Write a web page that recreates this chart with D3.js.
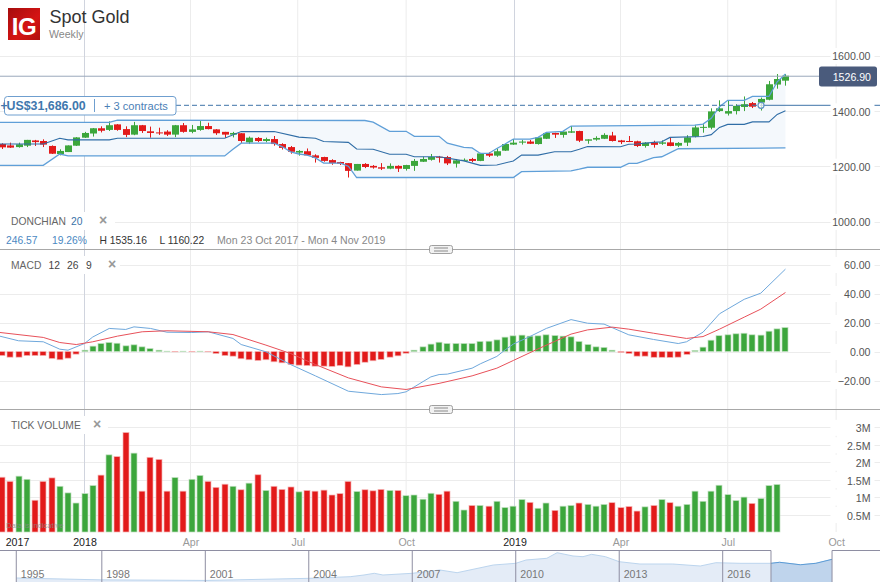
<!DOCTYPE html>
<html>
<head>
<meta charset="utf-8">
<script src="https://cdnjs.cloudflare.com/ajax/libs/d3/7.8.5/d3.min.js"></script>
<style>
  html, body { margin: 0; padding: 0; background: #fff; }
  svg { display: block; font-family: "Liberation Sans", Arial, sans-serif; }
</style>
</head>
<body>
<svg id="chart" width="880" height="582"></svg>
<script>
// Weekly candles, one entry per week from 23 Oct 2017
const opens = [1280,1275,1269,1274,1293,1291,1273,1244,1251,1274,1303,1318,1337,1331,1351,1334,1314,1348,1326,1322,1325,1314,1348,1324,1331,1345,1333,1324,1314,1319,1286,1302,1291,1298,1280,1269,1249,1254,1239,1233,1222,1215,1211,1184,1208,1201,1196,1191,1201,1190,1201,1216,1223,1234,1233,1209,1220,1226,1219,1246,1238,1256,1278,1285,1289,1280,1299,1320,1313,1321,1327,1292,1296,1299,1311,1293,1291,1290,1273,1286,1281,1286,1274,1285,1307,1339,1339,1399,1390,1399,1414,1428,1430,1440,1495,1509];
const highs = [1283,1285,1285,1295,1295,1297,1275,1261,1275,1305,1324,1338,1344,1362,1352,1344,1360,1349,1343,1339,1330,1349,1356,1349,1363,1357,1334,1324,1324,1319,1307,1305,1303,1309,1283,1273,1258,1264,1243,1234,1225,1216,1211,1208,1211,1204,1211,1210,1203,1205,1226,1234,1244,1237,1237,1226,1228,1230,1248,1251,1264,1280,1298,1295,1295,1304,1322,1321,1326,1345,1328,1297,1308,1319,1324,1295,1309,1292,1287,1292,1293,1302,1287,1312,1348,1352,1409,1438,1437,1424,1452,1432,1448,1508,1533,1533];
const lows = [1262,1266,1267,1269,1273,1269,1244,1239,1251,1273,1302,1307,1322,1327,1328,1305,1312,1320,1303,1313,1309,1305,1321,1319,1328,1333,1313,1302,1304,1284,1280,1287,1286,1274,1260,1245,1238,1238,1213,1216,1205,1204,1159,1184,1193,1191,1186,1189,1179,1184,1183,1215,1220,1213,1204,1195,1219,1214,1218,1233,1234,1255,1277,1278,1280,1278,1298,1302,1303,1320,1287,1281,1292,1298,1289,1280,1287,1269,1267,1267,1277,1272,1269,1273,1304,1321,1333,1396,1383,1387,1399,1410,1401,1438,1480,1491];
const closes = [1268,1267,1279,1295,1287,1278,1245,1255,1275,1304,1320,1337,1328,1348,1331,1313,1348,1327,1320,1320,1314,1348,1324,1333,1345,1334,1319,1314,1320,1291,1303,1291,1298,1280,1266,1252,1255,1239,1230,1219,1211,1209,1183,1208,1197,1195,1191,1201,1191,1204,1219,1226,1233,1231,1210,1221,1223,1219,1246,1238,1254,1280,1285,1289,1281,1304,1320,1314,1325,1326,1292,1297,1302,1313,1291,1287,1289,1273,1285,1277,1286,1273,1284,1304,1340,1342,1398,1409,1399,1418,1424,1415,1443,1496,1515,1526.9];

// Donchian channel, read at the weeks where the line bends
const upperAt = [-1,13,14,44,45,47,49,50,53,54,56,57,58,59,60,61,62,64,65,66,68,69,84,85,86,87,88,90,91,93,94,95];
const upperVal = [1358,1358,1366,1365,1359,1326,1326,1308,1308,1283,1268,1266,1246,1246,1264,1280,1298,1298,1304,1322,1326,1345,1348,1352,1373,1415,1438,1438,1452,1452,1505,1533];
const lowerAt = [-1,5,7,8,27,28,29,33,34,35,36,37,38,39,41,42,43,62,63,69,70,71,75,76,77,79,80,82,95];
const lowerVal = [1203,1203,1244,1237,1237,1261,1283,1283,1270,1252,1244,1240,1230,1211,1211,1200,1159,1159,1180,1183,1189,1196,1196,1210,1210,1231,1234,1263,1266];
const midAt = [-1,5,7,8,13,14,27,29,33,36,38,39,42,43,45,47,49,50,53,56,58,60,62,63,65,67,69,70,71,75,76,77,79,80,81,85,86,87,88,90,91,93,94,95];
const midVal = [1280,1280,1301,1295,1295,1301,1301,1325,1325,1305,1301,1289,1286,1262,1261,1243,1243,1234,1234,1219,1203,1204,1219,1240,1240,1252,1252,1261,1271,1270,1279,1280,1286,1288,1304,1307,1314,1340,1351,1351,1360,1360,1387,1400];

// MACD
const histogram = [-2.8,-3.9,-3.9,-2.8,-2.8,-2.8,-4.8,-5.7,-4.6,-1.8,0.9,3.7,5.5,6.2,5.7,3.9,4.6,3.2,2.0,0.9,0.2,-0.2,0.2,-0.2,0.2,-0.2,-1.4,-2.8,-3.2,-5,-5.7,-6.2,-5.7,-7.1,-7.8,-9,-9.4,-9.7,-10.1,-10.1,-10.3,-9.7,-10.6,-9,-7.4,-6.4,-5.5,-3.9,-3,-1.2,0.9,3.2,5.1,6.4,5.5,5.5,5.5,5.5,6.9,7.1,8,9.9,10.8,11.3,10.6,10.8,11.5,11,10.6,10.1,6.9,4.8,3.2,2.8,0.9,-0.6,-1.4,-3.2,-3.2,-4,-4,-4.1,-3.9,-2,0.7,3,7.8,10.9,11.5,12.2,12.6,11.5,11.3,14,15.6,16.5];
const macdAt = [-1,2,5,7,8,10,11,13,15,16,18,20,23,25,28,29,32,35,38,42,46,48,49,52,53,54,57,58,60,61,62,64,66,69,71,73,76,79,82,83,85,87,90,92,95];
const macdVal = [11.6,7.4,6.7,1.6,0.9,5.5,10,15.9,15.2,17,15.9,13.3,13.1,13.6,9,4.8,-0.2,-9,-16.8,-27.4,-29.7,-29,-27.8,-17.5,-15.9,-15.6,-11.5,-8.5,-3.4,1.1,5.1,10.3,15.9,22,19.5,18.9,11.5,8.3,5.5,6.7,13.3,26,36,40.2,56.8];
const signalAt = [-1,5,7,9,11,14,17,20,25,28,32,35,38,42,46,49,53,57,60,62,65,67,69,71,74,76,79,83,85,87,90,92,95];
const signalVal = [13.6,9.7,6.2,4.8,6.7,10.6,13.6,14.3,13.6,11.7,4.4,-1.4,-9,-18.2,-24.4,-26.2,-22,-16.8,-11.5,-6.2,1.8,6.9,12,14.9,16.8,15.4,12.6,9,10.3,15.4,23.7,29.2,40.7];

// Tick volume in millions
const volume = [1.57,1.45,1.60,1.51,0.91,1.45,1.55,1.31,1.12,0.83,1.10,1.33,1.63,2.21,2.16,2.85,2.26,1.17,2.14,2.08,1.17,1.56,1.17,1.51,1.62,1.45,1.28,1.37,1.31,1.21,1.40,1.64,1.19,1.31,1.22,1.29,1.15,1.19,1.17,1.20,1.06,1.10,1.45,1.16,1.21,1.18,1.22,1.19,1.19,1.04,1.06,0.94,1.11,1.08,1.17,0.88,0.63,0.76,0.76,0.74,0.88,0.70,0.74,0.93,0.85,0.68,0.83,0.62,0.74,0.76,0.83,0.79,0.74,0.79,0.84,0.70,0.73,0.60,0.72,0.76,0.93,0.84,0.74,0.79,1.17,0.88,1.17,1.34,1.07,0.90,1.00,0.82,0.96,1.33,1.36];

// Navigator overview
const navYears = [1995.52,1997.95,2001,2004,2005.2,2005.6,2005.9,2006.15,2007,2007.8,2008.3,2009.35,2010,2010.3,2010.9,2011.2,2011.66,2011.95,2012.2,2012.6,2013,2013.6,2014.55,2015.35,2015.8,2016.5,2017.4,2017.65,2018.25,2018.7,2019.17];
const navPrices = [410,300,265,390,486,586,686,586,686,880,722,1175,1275,1470,1570,1900,1706,1665,1805,1665,1370,1234,1234,1116,1310,1275,1275,1335,1190,1275,1510];
const navTicks = [1995.52,1998,2001,2004,2007,2010,2013,2016];
const navWindow = [2017.4,2019.17];

const priceTicks = [1000,1200,1400,1600];
const macdTicks = [-20,0,20,40,60];
const volumeTicks = [0.5,1,1.5,2,2.5,3];
const lastPrice = 1526.9;
const entryPrice = 1420;

const monthTicks = [
  [Date.UTC(2018,0,1), "2018", true], [Date.UTC(2018,3,1), "Apr", false],
  [Date.UTC(2018,6,1), "Jul", false], [Date.UTC(2018,9,1), "Oct", false],
  [Date.UTC(2019,0,1), "2019", true], [Date.UTC(2019,3,1), "Apr", false],
  [Date.UTC(2019,6,1), "Jul", false], [Date.UTC(2019,9,1), "Oct", false]
];

const width = 880, height = 582;
const green = "#3ca63c", red = "#e21a1a";
const smallText = 10.6;
const svg = d3.select("#chart");

const firstWeek = new Date(Date.UTC(2017,9,23));
const weekAt = (i) => d3.utcWeek.offset(firstWeek, i);

const x = d3.scaleUtc()
  .domain([new Date(Date.UTC(2018,0,1)), new Date(Date.UTC(2019,0,1))])
  .range([84.5, 514.5]);
const yPrice = d3.scaleLinear().domain([1000,1600]).range([221.5,55.5]);
const yMacd = d3.scaleLinear().domain([-20,60]).range([380.5,264.5]);
const yVol = d3.scaleLinear().domain([0,3]).range([532,427.3]);
const xNav = d3.scaleLinear().domain([2001,2016]).range([205.3,722.7]);
const yNav = d3.scaleLinear().domain([380,1900]).range([578.5,552.7]);

// Grid
const grid = svg.append("g");
const hLines = [...priceTicks.map(yPrice), ...macdTicks.map(yMacd), ...volumeTicks.map(yVol)];
grid.selectAll("line.h").data(hLines).join("line")
  .attr("class", "h")
  .attr("x1", 0).attr("x2", width)
  .attr("y1", (d) => Math.round(d) + 0.5).attr("y2", (d) => Math.round(d) + 0.5)
  .attr("stroke", "#ececec");
grid.selectAll("line.v").data(monthTicks).join("line")
  .attr("class", "v")
  .attr("x1", (d) => x(d[0])).attr("x2", (d) => x(d[0]))
  .attr("y1", 0).attr("y2", 532)
  .attr("stroke", (d) => d[2] ? "#d0d4de" : "#ececec");

// Donchian channel
const pts = (at, val) => at.map((w, i) => [x(weekAt(w)), yPrice(val[i])]);
const upperPts = pts(upperAt, upperVal);
const lowerPts = pts(lowerAt, lowerVal);
const midPts = pts(midAt, midVal);
const line = d3.line();

svg.append("path")
  .attr("d", line([...upperPts, ...lowerPts.slice().reverse()]) + "Z")
  .attr("fill", "#f4f8fc");

// Candles
const candle = svg.append("g").selectAll("g").data(closes).join("g");
candle.append("line")
  .attr("x1", (d, i) => Math.round(x(weekAt(i))) + 0.5)
  .attr("x2", (d, i) => Math.round(x(weekAt(i))) + 0.5)
  .attr("y1", (d, i) => yPrice(highs[i]))
  .attr("y2", (d, i) => yPrice(lows[i]))
  .attr("stroke", (d, i) => d >= opens[i] ? green : red);
candle.append("rect")
  .attr("x", (d, i) => Math.round(x(weekAt(i))) - 3)
  .attr("width", 7)
  .attr("y", (d, i) => yPrice(Math.max(d, opens[i])))
  .attr("height", (d, i) => Math.max(1, Math.abs(yPrice(d) - yPrice(opens[i]))))
  .attr("fill", (d, i) => d >= opens[i] ? green : red);

const drawLine = (points, color, w) => svg.append("path")
  .attr("d", line(points)).attr("fill", "none")
  .attr("stroke", color).attr("stroke-width", w);
drawLine(upperPts, "#5f9fd8", 1.3);
drawLine(lowerPts, "#5f9fd8", 1.3);
drawLine(midPts, "#2f6da6", 1.1);

// Last price and open position lines
svg.append("line").attr("x1", 0).attr("x2", 819)
  .attr("y1", yPrice(lastPrice) + 0.5).attr("y2", yPrice(lastPrice) + 0.5)
  .attr("stroke", "#9aa8bc");
svg.append("line").attr("x1", 176).attr("x2", 761)
  .attr("y1", yPrice(entryPrice)).attr("y2", yPrice(entryPrice))
  .attr("stroke", "#3f74a8").attr("stroke-dasharray", "5,3");
svg.append("line").attr("x1", 761).attr("x2", width)
  .attr("y1", yPrice(entryPrice)).attr("y2", yPrice(entryPrice))
  .attr("stroke", "#3f74a8");
svg.append("circle").attr("cx", 761).attr("cy", yPrice(entryPrice)).attr("r", 3)
  .attr("fill", "#fff").attr("fill-opacity", 0.7).attr("stroke", "#5f93c4").attr("stroke-width", 1.2);

// Position label
svg.append("rect").attr("x", 4.5).attr("y", 96.5).attr("width", 171.5).attr("height", 18.5).attr("rx", 3)
  .attr("fill", "#fff").attr("stroke", "#6f9fcf");
svg.append("text").attr("x", 0.5).attr("y", 110).attr("font-size", 12).attr("font-weight", "bold")
  .attr("fill", "#3f78ae").text("+");
svg.append("text").attr("x", 6.5).attr("y", 110).attr("font-size", 12.4).attr("font-weight", "bold")
  .attr("fill", "#3f78ae").text("US$31,686.00");
svg.append("line").attr("x1", 94.5).attr("x2", 94.5).attr("y1", 99).attr("y2", 112).attr("stroke", "#6f9fcf");
svg.append("text").attr("x", 104).attr("y", 110).attr("font-size", 11.1)
  .attr("fill", "#4a80b6").text("+ 3 contracts");

// MACD panel
svg.append("g").selectAll("rect").data(histogram).join("rect")
  .attr("x", (d, i) => Math.round(x(weekAt(i))) - 3)
  .attr("width", 6)
  .attr("y", (d) => yMacd(Math.max(d, 0)))
  .attr("height", (d) => Math.abs(yMacd(d) - yMacd(0)))
  .attr("fill", (d) => d >= 0 ? green : red)
  .attr("stroke", (d) => d >= 0 ? "#bfe0bf" : "#f5b5b5").attr("stroke-width", 0.7);
const macdPts = (at, val) => at.map((w, i) => [x(weekAt(w)), yMacd(val[i])]);
drawLine(macdPts(macdAt, macdVal), "#6fa8dc", 1);
drawLine(macdPts(signalAt, signalVal), "#e8515a", 1);

// Volume panel
svg.append("g").selectAll("rect").data(volume).join("rect")
  .attr("x", (d, i) => Math.round(x(weekAt(i))) - 3)
  .attr("width", 6)
  .attr("y", (d) => yVol(d))
  .attr("height", (d) => yVol(0) - yVol(d))
  .attr("fill", (d, i) => closes[i] >= opens[i] ? green : red)
  .attr("stroke", (d, i) => closes[i] >= opens[i] ? "#bfe0bf" : "#f5b5b5").attr("stroke-width", 0.7);
svg.append("text").attr("x", 6).attr("y", 528).attr("font-size", 7.6)
  .attr("fill", "#8a8a8a").attr("fill-opacity", 0.8).text("Data is indicative");

// Right hand axes
const yAxis = (scale, ticks, format) => {
  const g = svg.append("g").attr("transform", "translate(870.5,0)")
    .call(d3.axisRight(scale).tickValues(ticks).tickSize(0).tickFormat(format));
  g.select(".domain").remove();
  g.selectAll(".tick").insert("rect", "text")
    .attr("x", -40).attr("y", -8).attr("width", 44).attr("height", 16).attr("fill", "#fff");
  g.selectAll("text")
    .attr("x", 0).attr("dy", "0.42em").attr("text-anchor", "end")
    .attr("font-size", smallText).attr("font-family", "Liberation Sans").attr("fill", "#555");
};
yAxis(yPrice, priceTicks, d3.format(".2f"));
yAxis(yMacd, macdTicks, d3.format(".2f"));
yAxis(yVol, volumeTicks, (d) => d + "M");

// Time axis
const timeAxis = svg.append("g").attr("transform", "translate(0,532)")
  .call(d3.axisBottom(x).tickValues(monthTicks.map((d) => new Date(d[0])))
    .tickSize(0).tickPadding(6).tickFormat((d, i) => monthTicks[i][1]));
timeAxis.select(".domain").remove();
timeAxis.selectAll("text")
  .attr("font-size", smallText).attr("font-family", "Liberation Sans")
  .attr("fill", (d, i) => monthTicks[i][2] ? "#222" : "#999");
svg.append("text").attr("x", 17.5).attr("y", 545.5).attr("text-anchor", "middle")
  .attr("font-size", smallText).attr("fill", "#222").text("2017");

// Panel dividers
[249.5, 409.5].forEach((y) => {
  svg.append("line").attr("x1", 0).attr("x2", width).attr("y1", y).attr("y2", y).attr("stroke", "#a8a8a8");
  svg.append("rect").attr("x", 429.5).attr("y", y - 4).attr("width", 23).attr("height", 8).attr("rx", 2)
    .attr("fill", "#f2f2f2").attr("stroke", "#a0a0a0");
  [-1.5, 1.5].forEach((o) => svg.append("line")
    .attr("x1", 434).attr("x2", 448).attr("y1", y + o).attr("y2", y + o).attr("stroke", "#8a8a8a"));
});

// Navigator
const navPts = navYears.map((d, i) => [xNav(d), yNav(navPrices[i])]);
const navArea = d3.area().x((d) => d[0]).y0(582).y1((d) => d[1]);
svg.append("clipPath").attr("id", "navSel").append("rect")
  .attr("x", xNav(navWindow[0])).attr("y", 550).attr("width", xNav(navWindow[1]) - xNav(navWindow[0])).attr("height", 32);
svg.append("path").attr("d", navArea(navPts)).attr("fill", "#e4ecf7");
svg.append("path").attr("d", line(navPts)).attr("fill", "none").attr("stroke", "#bcd5ee");
svg.append("path").attr("d", navArea(navPts)).attr("fill", "#bfd4ec").attr("clip-path", "url(#navSel)");
svg.append("path").attr("d", line(navPts)).attr("fill", "none").attr("stroke", "#5b9bd5")
  .attr("clip-path", "url(#navSel)");

const navColor = "#8e8ea2";
svg.selectAll("line.navTick").data(navTicks).join("line")
  .attr("class", "navTick")
  .attr("x1", (d) => xNav(d)).attr("x2", (d) => xNav(d))
  .attr("y1", 550.5).attr("y2", 582).attr("stroke", navColor);
svg.selectAll("text.navLabel").data(navTicks).join("text")
  .attr("class", "navLabel")
  .attr("x", (d) => xNav(d) + 4.5).attr("y", 578)
  .attr("font-size", smallText).attr("fill", "#777").text((d) => Math.floor(d));
svg.append("line").attr("x1", 0).attr("x2", xNav(navWindow[0])).attr("y1", 550.5).attr("y2", 550.5).attr("stroke", navColor);
svg.append("line").attr("x1", xNav(navWindow[1])).attr("x2", width).attr("y1", 550.5).attr("y2", 550.5).attr("stroke", navColor);
navWindow.forEach((d) => svg.append("line")
  .attr("x1", xNav(d)).attr("x2", xNav(d)).attr("y1", 550.5).attr("y2", 582).attr("stroke", navColor));

// Last price tag
svg.append("rect").attr("x", 819).attr("y", 66.5).attr("width", 58).attr("height", 20).attr("rx", 2.5)
  .attr("fill", "#4a5b7c");
svg.append("text").attr("x", 871).attr("y", 81).attr("text-anchor", "end")
  .attr("font-size", smallText).attr("fill", "#fff").text(d3.format(".2f")(lastPrice));

// Header
const logoFill = svg.append("defs").append("linearGradient").attr("id", "logoFill")
  .attr("x1", 0).attr("y1", 0).attr("x2", 1).attr("y2", 1);
logoFill.append("stop").attr("offset", 0).attr("stop-color", "#a50d0d");
logoFill.append("stop").attr("offset", 0.6).attr("stop-color", "#d51414");
logoFill.append("stop").attr("offset", 1).attr("stop-color", "#b00f0f");
svg.append("rect").attr("x", 8).attr("y", 8).attr("width", 32).attr("height", 32).attr("fill", "url(#logoFill)");
svg.append("text").attr("x", 24).attr("y", 35).attr("text-anchor", "middle")
  .attr("font-size", 24).attr("font-weight", "bold").attr("fill", "#fff").attr("letter-spacing", -0.5).text("IG");
svg.append("text").attr("x", 49.5).attr("y", 23).attr("font-size", 18).attr("fill", "#333").text("Spot Gold");
svg.append("text").attr("x", 49).attr("y", 38).attr("font-size", smallText).attr("fill", "#888").text("Weekly");

// Indicator captions, these sit on a white patch over the grid
const caption = (yTop, w) => svg.append("rect").attr("x", 0).attr("y", yTop).attr("width", w).attr("height", 18).attr("fill", "#fff");
const label = (xPos, y, text, color, size) => svg.append("text")
  .attr("x", xPos).attr("y", y).attr("font-size", size || 10.3).attr("fill", color).text(text);

caption(212, 115);
label(11, 225, "DONCHIAN", "#666");
label(71, 225, "20", "#3a72a8");
label(99, 225, "×", "#999", 14).attr("font-weight", "bold");
label(6, 244, "246.57", "#4a88c2");
label(52, 244, "19.26%", "#4a88c2");
label(99.5, 244, "H 1535.16", "#333");
label(159.5, 244, "L 1160.22", "#333");
label(217, 244, "Mon 23 Oct 2017 - Mon 4 Nov 2019", "#888", 10.6);

caption(256, 120);
label(11, 269, "MACD", "#666");
label(48.5, 269, "12", "#444");
label(67, 269, "26", "#444");
label(86, 269, "9", "#444");
label(108, 269, "×", "#999", 14).attr("font-weight", "bold");

caption(416, 108);
label(11, 429, "TICK VOLUME", "#666");
label(93, 429, "×", "#999", 14).attr("font-weight", "bold");
</script>
</body>
</html>
